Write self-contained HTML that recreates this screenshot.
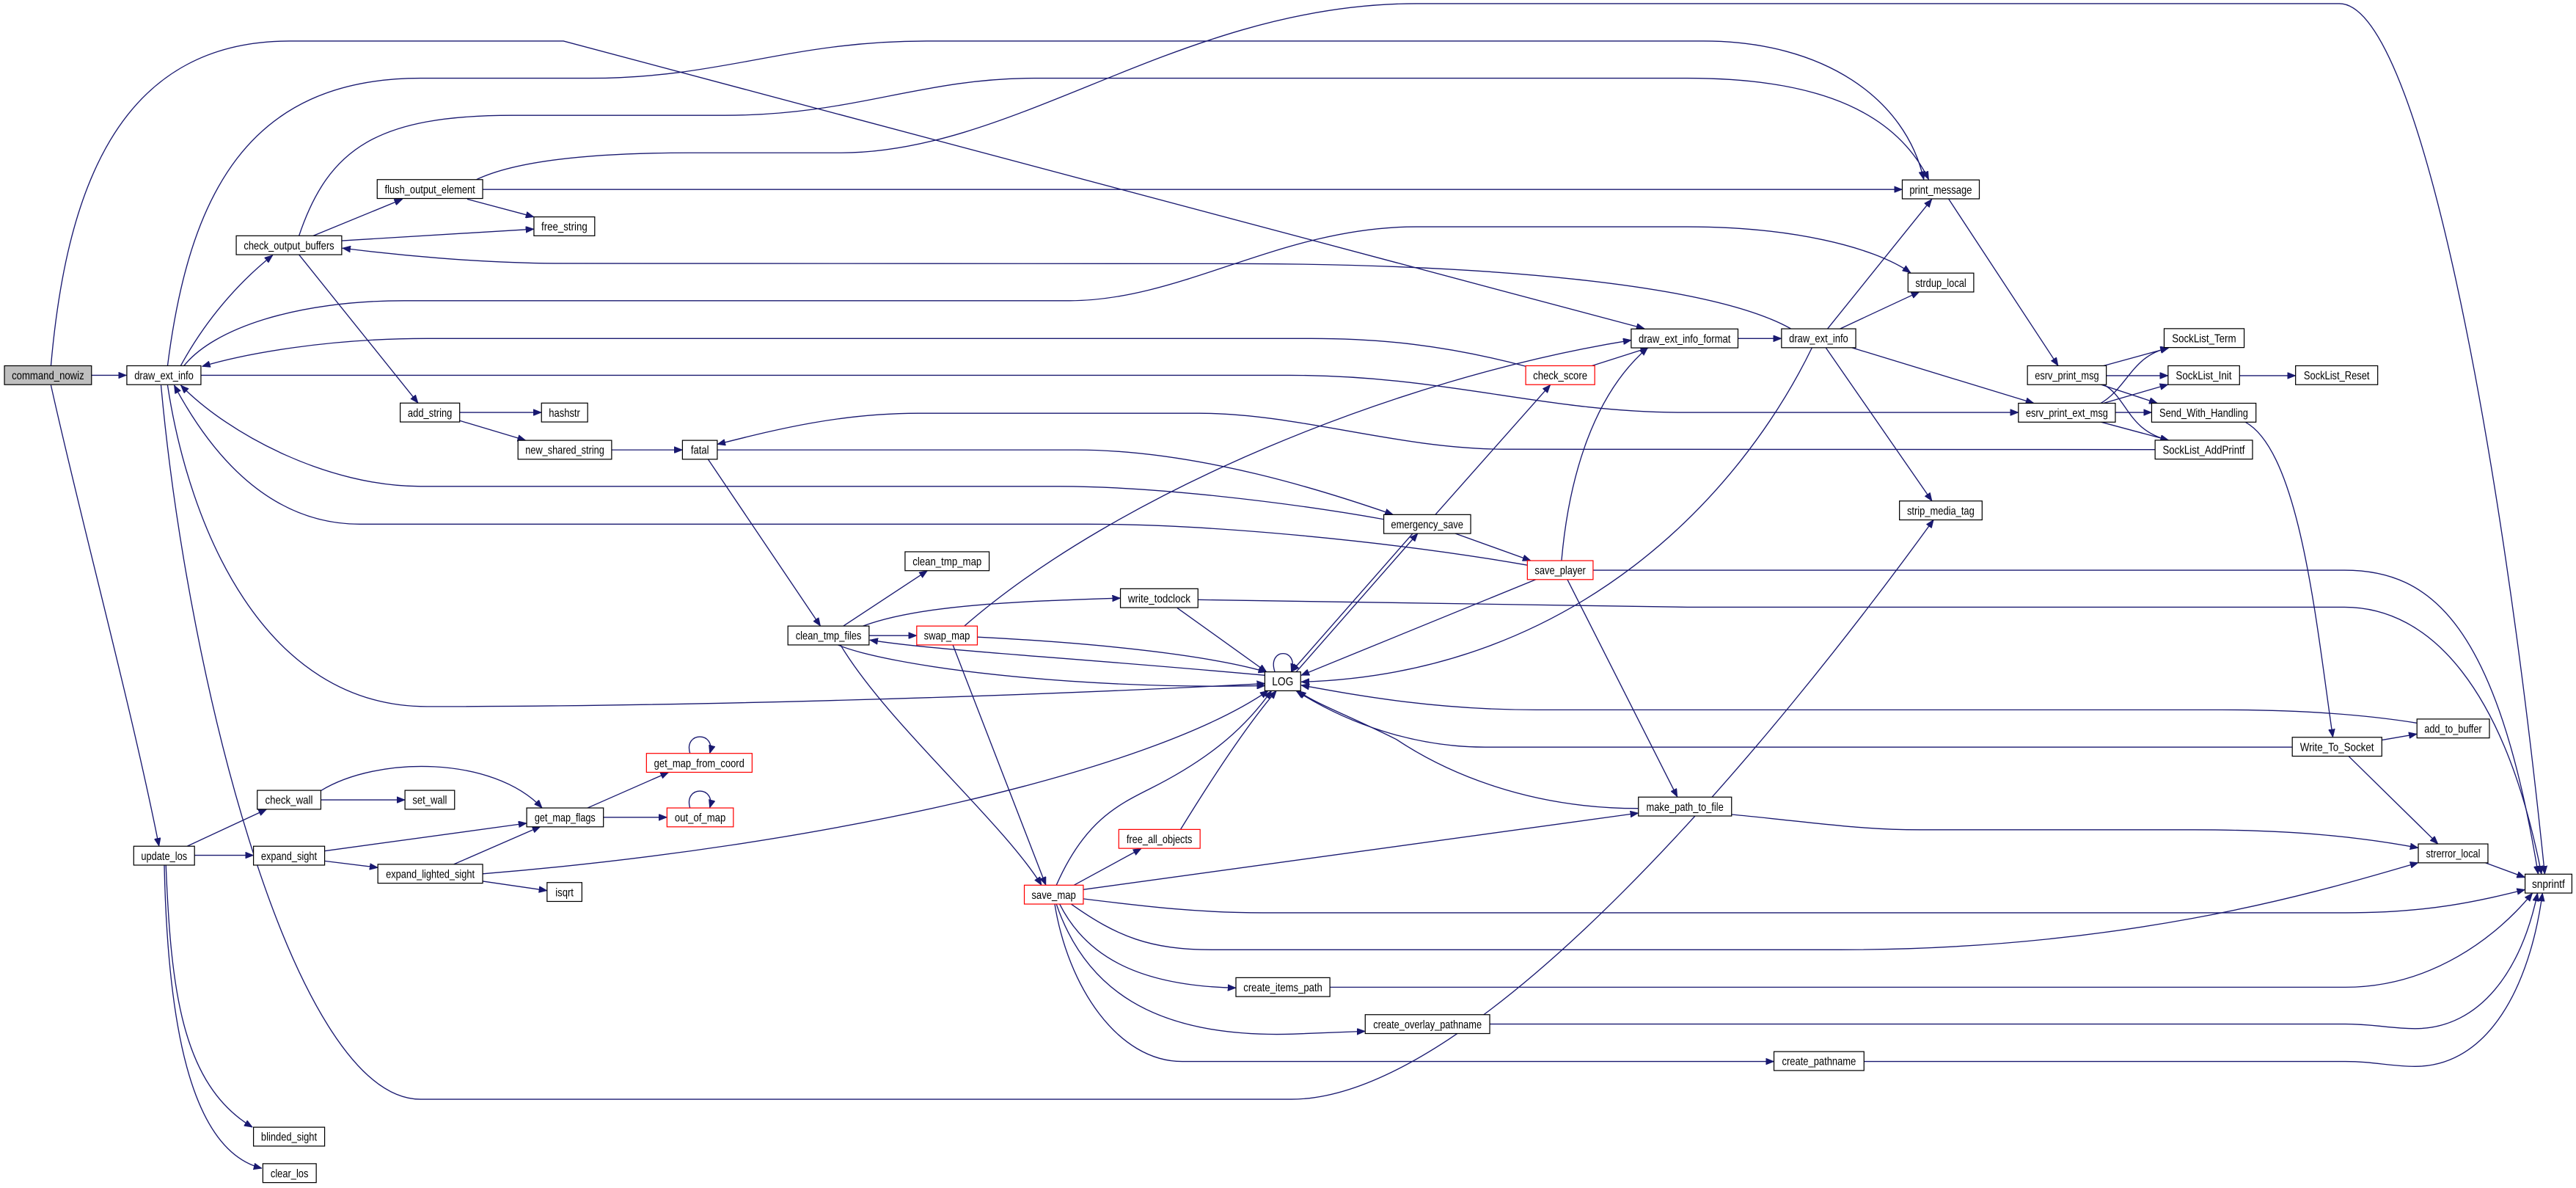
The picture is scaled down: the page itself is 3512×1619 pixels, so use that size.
<!DOCTYPE html>
<html><head><meta charset="utf-8"><style>
html,body{margin:0;padding:0;background:#fff;width:3512px;height:1619px;overflow:hidden}
svg{display:block}
text{font-family:"Liberation Sans",sans-serif;font-size:7.2px;fill:#000}
.e{fill:none;stroke:#191970;stroke-width:0.6;marker-end:url(#a)}
.n{fill:#fff;stroke:#000;stroke-width:0.55}
.r{fill:#fff;stroke:#ff0000;stroke-width:0.55}
.g{fill:#bfbfbf;stroke:#000;stroke-width:0.55}
</style></head><body>
<svg width="3512" height="1619" viewBox="0 0 1568 723" preserveAspectRatio="none" xmlns="http://www.w3.org/2000/svg">
<defs><marker id="a" markerUnits="userSpaceOnUse" markerWidth="5" markerHeight="4" refX="5" refY="2" orient="auto"><path d="M0,0 L5,2 L0,4 z" fill="#191970" stroke="#191970" stroke-width="0.3"/></marker></defs>
<g>
<path class="e" d="M55.7,228.4 L77,228.4"/>
<path class="e" d="M31,234.4 C50,320 80,430 96.8,515"/>
<path class="e" d="M31,222.6 C40,120 70,25 176,25 L343,25 L1001,200"/>
<path class="e" d="M102,222.6 C115,120 150,47.6 256,47.6 L359,47.6 C440,47.6 480,25 564,25 L1037,25 C1110,25 1160,60 1171,109.3"/>
<path class="e" d="M110,222.6 C125,195 145,172 166,155.3"/>
<path class="e" d="M112,222.6 C130,200 180,183 246,183 L651,183 C720,183 780,138 862,138 L1027,138 C1090,138 1140,150 1163,166"/>
<path class="e" d="M122.3,228.4 L785,228.4 C880,228.4 940,251 1024,251 L1228.6,251"/>
<path class="e" d="M929,223 C880,210 840,206 798,206 L260,206 C200,206 150,215 123,223"/>
<path class="e" d="M842,316 C780,305 700,296 645,296 L256,296 C200,296 140,265 110,234.4"/>
<path class="e" d="M930,344 C850,330 740,319 662,319 L219,319 C160,319 125,270 106,234.4"/>
<path class="e" d="M102,234.4 C115,320 160,430 260,430 C400,430 600,425 770,416"/>
<path class="e" d="M98,234.4 C115,420 180,669 256,669 L786,669 C900,669 1080,450 1177,316.3"/>
<path class="e" d="M190.6,143.5 L245,121.2"/>
<path class="e" d="M208,146.5 L325,139.4"/>
<path class="e" d="M284.4,121.2 L325,132"/>
<path class="e" d="M182,143.5 C200,90 230,70.2 312,70.2 L441,70.2 C520,70.2 560,47.6 630,47.6 L1027,47.6 C1090,47.6 1150,60 1174,109.3"/>
<path class="e" d="M290,109.3 C320,95 380,93 420,93 L512,93 C620,93 720,2.2 862,2.2 L1424,2.2 C1470,2.2 1520,250 1549,532"/>
<path class="e" d="M293.8,115.3 L1157.9,115.3"/>
<path class="e" d="M1090,200 C1040,172 900,161 760,160.5 L338,160.3 C290,160 240,155 208.4,151"/>
<path class="e" d="M182,155 L254.5,245.3"/>
<path class="e" d="M279.8,251 L329.6,251"/>
<path class="e" d="M279.8,256 L320,268"/>
<path class="e" d="M372.3,273.8 L415.4,273.8"/>
<path class="e" d="M1311.8,273.6 L915,273.4 C850,273 790,251.5 730,251.5 L559,251.5 C510,251.5 470,262 436.6,270.4"/>
<path class="e" d="M436.6,273.8 L655,273.8 C730,273.8 810,300 848,313.2"/>
<path class="e" d="M431,279.5 L499.4,381"/>
<path class="e" d="M513.3,381 L564.5,347.3"/>
<path class="e" d="M525.3,381 C560,368 620,366 682,364"/>
<path class="e" d="M529,386.8 L558,386.8"/>
<path class="e" d="M770,411 C650,400 570,396 529.4,389.5"/>
<path class="e" d="M510,392.5 C540,405 650,420 770,417.3"/>
<path class="e" d="M595,387.7 C680,392 740,400 771,409"/>
<path class="e" d="M776,408.9 C771,394 791,394 786,408.9"/>
<path class="e" d="M511.6,392.5 C540,440 610,500 634,538.7"/>
<path class="e" d="M580,392.5 L636.6,538.7"/>
<path class="e" d="M587,381 C680,300 850,230 993,207"/>
<path class="e" d="M873.7,313.2 L943.7,234.2"/>
<path class="e" d="M885.6,324.6 L931.8,341.2"/>
<path class="e" d="M860,324.6 L786,408.9"/>
<path class="e" d="M789,408.9 L863,324.6"/>
<path class="e" d="M935,352.6 L792,411"/>
<path class="e" d="M950.5,341.2 C955,290 970,240 1003,211.6"/>
<path class="e" d="M969,222.6 L1003.5,211.6"/>
<path class="e" d="M1057.9,206 L1084.4,206"/>
<path class="e" d="M1103,211.5 C1060,300 960,410 792,415"/>
<path class="e" d="M954,352.6 L1021,485"/>
<path class="e" d="M969.7,347 L1427,347 C1480,347 1520,380 1545,532"/>
<path class="e" d="M729.2,365 L1027,369.5 L1427,369.5 C1480,369.5 1525,420 1547,532"/>
<path class="e" d="M716.6,370 L771,409"/>
<path class="e" d="M1112.4,200.1 L1175.9,121.2"/>
<path class="e" d="M1120,200.1 L1168.3,177.6"/>
<path class="e" d="M1126.9,211.5 L1238,245.4"/>
<path class="e" d="M1111.3,211.5 L1176,304.9"/>
<path class="e" d="M1186.2,121.2 L1252.8,222.6"/>
<path class="e" d="M1280.4,222.6 L1320,211.8"/>
<path class="e" d="M1282,228.6 L1319.7,228.6"/>
<path class="e" d="M1278.7,234 L1313.2,245.4"/>
<path class="e" d="M1280.4,234 C1295,242 1295,262 1320,267.9"/>
<path class="e" d="M1278.7,245.4 C1295,236 1298,216 1320,211.8"/>
<path class="e" d="M1280.4,245.4 L1319.7,234"/>
<path class="e" d="M1287.6,251 L1309.7,251"/>
<path class="e" d="M1278.7,256.8 L1320,267.9"/>
<path class="e" d="M1363.2,228.6 L1397.3,228.6"/>
<path class="e" d="M1366.6,256.8 C1400,275 1410,380 1420,448.7"/>
<path class="e" d="M1449.8,450.4 L1471.2,446.7"/>
<path class="e" d="M1471,440 C1440,435 1400,432 1352,432 L935,432 C870,432 820,422 792,417"/>
<path class="e" d="M1395,454.7 L904,454.7 C860,454.7 820,440 789,420.5"/>
<path class="e" d="M1429.5,460.1 L1484,513.6"/>
<path class="e" d="M1512.6,525 L1537,534"/>
<path class="e" d="M1054,495.7 C1100,500 1130,505 1169,505 L1335,505 C1400,505 1440,510 1472,516"/>
<path class="e" d="M997,492 C930,492 880,470 850,450 C820,435 800,428 790,420.3"/>
<path class="e" d="M659.3,541.4 L997.3,494.8"/>
<path class="e" d="M659.3,547 C700,552 730,555.5 769,555.5 L1427.6,555.5 C1480,555.5 1510,548 1537,541.4"/>
<path class="e" d="M652,550.2 C680,570 700,578 738,578 L1120,578 C1300,578 1420,540 1472,525"/>
<path class="e" d="M645,550.2 C660,580 690,600 752.3,601.2"/>
<path class="e" d="M643,550.2 C660,600 700,632 787,629.3 L831,627.6"/>
<path class="e" d="M642,550.2 C650,600 680,646 719.7,646 L1079.8,646"/>
<path class="e" d="M809.5,600.8 L1427.6,600.8 C1480,600.8 1520,570 1541.5,543.5"/>
<path class="e" d="M906.8,623.2 L1427.6,623.2 C1445,623.2 1455,626 1470,626 C1510,626 1535,590 1544.6,543.5"/>
<path class="e" d="M1134.6,646 L1427.6,646 C1445,646 1455,649 1470,649 C1515,649 1540,600 1547.6,543.5"/>
<path class="e" d="M653.7,538.7 L694.7,516.4"/>
<path class="e" d="M718.6,504.8 C740,470 760,440 777,420.3"/>
<path class="e" d="M643,538.7 C660,500 680,490 700,480 C740,460 760,440 774,420.3"/>
<path class="e" d="M293.8,531.8 C500,515 700,470 772,420.3"/>
<path class="e" d="M113.9,515 L162.3,492.5"/>
<path class="e" d="M118.4,520.5 L154.3,520.5"/>
<path class="e" d="M101,526.5 C104,600 110,660 153.7,686"/>
<path class="e" d="M100,526.5 C102,620 115,700 159.4,711"/>
<path class="e" d="M195.3,486.8 L246.5,486.8"/>
<path class="e" d="M195.3,481.2 C230,460 300,460 330,491.7"/>
<path class="e" d="M197.6,517.9 L320.6,501"/>
<path class="e" d="M197.6,524 L230,528"/>
<path class="e" d="M276.2,526 L329,503"/>
<path class="e" d="M293.8,536.3 L333,542"/>
<path class="e" d="M357.6,491.7 L407,470"/>
<path class="e" d="M367.3,497.4 L406,497.4"/>
<path class="e" d="M420,458.5 C416,445 436,445 432,458.5"/>
<path class="e" d="M420,491.7 C416,478 436,478 432,491.7"/>
</g>
<g>
<rect class="g" x="2.7" y="222.6" width="53" height="11.5"/><text x="29.2" y="230.9" text-anchor="middle" textLength="44" lengthAdjust="spacingAndGlyphs">command_nowiz</text>
<rect class="n" x="77.2" y="222.6" width="45.1" height="11.5"/><text x="99.8" y="230.9" text-anchor="middle" textLength="36" lengthAdjust="spacingAndGlyphs">draw_ext_info</text>
<rect class="n" x="143.8" y="143.5" width="64.2" height="11.5"/><text x="175.9" y="151.8" text-anchor="middle" textLength="55" lengthAdjust="spacingAndGlyphs">check_output_buffers</text>
<rect class="n" x="229.6" y="109.3" width="64.2" height="11.5"/><text x="261.7" y="117.6" text-anchor="middle" textLength="55" lengthAdjust="spacingAndGlyphs">flush_output_element</text>
<rect class="n" x="325" y="132" width="37" height="11.5"/><text x="343.5" y="140.3" text-anchor="middle" textLength="28" lengthAdjust="spacingAndGlyphs">free_string</text>
<rect class="n" x="243.6" y="245.3" width="36.2" height="11.5"/><text x="261.7" y="253.6" text-anchor="middle" textLength="27" lengthAdjust="spacingAndGlyphs">add_string</text>
<rect class="n" x="329.6" y="245.3" width="28.1" height="11.5"/><text x="343.6" y="253.6" text-anchor="middle" textLength="19" lengthAdjust="spacingAndGlyphs">hashstr</text>
<rect class="n" x="315.3" y="268" width="57" height="11.5"/><text x="343.8" y="276.3" text-anchor="middle" textLength="48" lengthAdjust="spacingAndGlyphs">new_shared_string</text>
<rect class="n" x="415.4" y="268" width="21.2" height="11.5"/><text x="426" y="276.3" text-anchor="middle" textLength="11" lengthAdjust="spacingAndGlyphs">fatal</text>
<rect class="n" x="479.6" y="381" width="49.4" height="11.5"/><text x="504.3" y="389.3" text-anchor="middle" textLength="40" lengthAdjust="spacingAndGlyphs">clean_tmp_files</text>
<rect class="n" x="550.9" y="335.8" width="51.2" height="11.5"/><text x="576.5" y="344.1" text-anchor="middle" textLength="42" lengthAdjust="spacingAndGlyphs">clean_tmp_map</text>
<rect class="n" x="682" y="358.3" width="47.2" height="11.5"/><text x="705.6" y="366.6" text-anchor="middle" textLength="38" lengthAdjust="spacingAndGlyphs">write_todclock</text>
<rect class="r" x="558" y="381" width="36.9" height="11.5"/><text x="576.4" y="389.3" text-anchor="middle" textLength="28" lengthAdjust="spacingAndGlyphs">swap_map</text>
<rect class="n" x="769.9" y="408.9" width="21.8" height="11.5"/><text x="780.8" y="417.2" text-anchor="middle" textLength="13" lengthAdjust="spacingAndGlyphs">LOG</text>
<rect class="n" x="842.3" y="313.2" width="52.9" height="11.5"/><text x="868.7" y="321.5" text-anchor="middle" textLength="44" lengthAdjust="spacingAndGlyphs">emergency_save</text>
<rect class="r" x="928.7" y="222.6" width="42" height="11.5"/><text x="949.7" y="230.9" text-anchor="middle" textLength="33" lengthAdjust="spacingAndGlyphs">check_score</text>
<rect class="r" x="929.7" y="341.2" width="40" height="11.5"/><text x="949.7" y="349.5" text-anchor="middle" textLength="31" lengthAdjust="spacingAndGlyphs">save_player</text>
<rect class="n" x="992.9" y="200.2" width="65" height="11.5"/><text x="1025.4" y="208.5" text-anchor="middle" textLength="56" lengthAdjust="spacingAndGlyphs">draw_ext_info_format</text>
<rect class="n" x="1084.4" y="200.1" width="45.2" height="11.5"/><text x="1107" y="208.4" text-anchor="middle" textLength="36" lengthAdjust="spacingAndGlyphs">draw_ext_info</text>
<rect class="n" x="1157.9" y="109.5" width="46.9" height="11.5"/><text x="1181.3" y="117.8" text-anchor="middle" textLength="38" lengthAdjust="spacingAndGlyphs">print_message</text>
<rect class="n" x="1161.4" y="166.2" width="40" height="11.5"/><text x="1181.4" y="174.5" text-anchor="middle" textLength="31" lengthAdjust="spacingAndGlyphs">strdup_local</text>
<rect class="n" x="1156.2" y="304.9" width="50.3" height="11.5"/><text x="1181.3" y="313.2" text-anchor="middle" textLength="41" lengthAdjust="spacingAndGlyphs">strip_media_tag</text>
<rect class="n" x="1234.1" y="222.6" width="48" height="11.5"/><text x="1258.1" y="230.9" text-anchor="middle" textLength="39" lengthAdjust="spacingAndGlyphs">esrv_print_msg</text>
<rect class="n" x="1228.6" y="245.4" width="59" height="11.5"/><text x="1258.1" y="253.7" text-anchor="middle" textLength="50" lengthAdjust="spacingAndGlyphs">esrv_print_ext_msg</text>
<rect class="n" x="1317.3" y="200" width="48.7" height="11.5"/><text x="1341.6" y="208.3" text-anchor="middle" textLength="39" lengthAdjust="spacingAndGlyphs">SockList_Term</text>
<rect class="n" x="1319.7" y="222.6" width="43.5" height="11.5"/><text x="1341.4" y="230.9" text-anchor="middle" textLength="34" lengthAdjust="spacingAndGlyphs">SockList_Init</text>
<rect class="n" x="1397.3" y="222.6" width="50" height="11.5"/><text x="1422.3" y="230.9" text-anchor="middle" textLength="40" lengthAdjust="spacingAndGlyphs">SockList_Reset</text>
<rect class="n" x="1309.7" y="245.4" width="63.5" height="11.5"/><text x="1341.4" y="253.7" text-anchor="middle" textLength="54" lengthAdjust="spacingAndGlyphs">Send_With_Handling</text>
<rect class="n" x="1311.8" y="267.9" width="59.3" height="11.5"/><text x="1341.4" y="276.2" text-anchor="middle" textLength="50" lengthAdjust="spacingAndGlyphs">SockList_AddPrintf</text>
<rect class="n" x="1471.2" y="437.6" width="44.1" height="11.5"/><text x="1493.2" y="445.9" text-anchor="middle" textLength="35" lengthAdjust="spacingAndGlyphs">add_to_buffer</text>
<rect class="n" x="1395.3" y="448.7" width="54.5" height="11.5"/><text x="1422.5" y="457" text-anchor="middle" textLength="45" lengthAdjust="spacingAndGlyphs">Write_To_Socket</text>
<rect class="n" x="997.3" y="485.1" width="56.7" height="11.5"/><text x="1025.6" y="493.4" text-anchor="middle" textLength="47" lengthAdjust="spacingAndGlyphs">make_path_to_file</text>
<rect class="n" x="1472" y="513.6" width="42.4" height="11.5"/><text x="1493.2" y="521.9" text-anchor="middle" textLength="33" lengthAdjust="spacingAndGlyphs">strerror_local</text>
<rect class="n" x="1537" y="532" width="28.5" height="11.5"/><text x="1551.2" y="540.3" text-anchor="middle" textLength="20" lengthAdjust="spacingAndGlyphs">snprintf</text>
<rect class="n" x="81.4" y="515" width="37" height="11.5"/><text x="99.9" y="523.3" text-anchor="middle" textLength="28" lengthAdjust="spacingAndGlyphs">update_los</text>
<rect class="n" x="156.6" y="481" width="38.7" height="11.5"/><text x="175.9" y="489.3" text-anchor="middle" textLength="29" lengthAdjust="spacingAndGlyphs">check_wall</text>
<rect class="n" x="246.5" y="481" width="30.2" height="11.5"/><text x="261.6" y="489.3" text-anchor="middle" textLength="21" lengthAdjust="spacingAndGlyphs">set_wall</text>
<rect class="n" x="154.3" y="515" width="43.3" height="11.5"/><text x="175.9" y="523.3" text-anchor="middle" textLength="34" lengthAdjust="spacingAndGlyphs">expand_sight</text>
<rect class="n" x="230" y="526" width="63.8" height="11.5"/><text x="261.9" y="534.3" text-anchor="middle" textLength="54" lengthAdjust="spacingAndGlyphs">expand_lighted_sight</text>
<rect class="n" x="333" y="537.1" width="21.2" height="11.5"/><text x="343.6" y="545.4" text-anchor="middle" textLength="11" lengthAdjust="spacingAndGlyphs">isqrt</text>
<rect class="n" x="320.6" y="491.7" width="46.7" height="11.5"/><text x="343.9" y="500" text-anchor="middle" textLength="37" lengthAdjust="spacingAndGlyphs">get_map_flags</text>
<rect class="r" x="393.5" y="458.5" width="64.3" height="11.5"/><text x="425.6" y="466.8" text-anchor="middle" textLength="55" lengthAdjust="spacingAndGlyphs">get_map_from_coord</text>
<rect class="r" x="406" y="491.7" width="40.4" height="11.5"/><text x="426.2" y="500" text-anchor="middle" textLength="31" lengthAdjust="spacingAndGlyphs">out_of_map</text>
<rect class="r" x="623.5" y="538.7" width="35.9" height="11.5"/><text x="641.4" y="547" text-anchor="middle" textLength="27" lengthAdjust="spacingAndGlyphs">save_map</text>
<rect class="r" x="681" y="504.8" width="49.5" height="11.5"/><text x="705.7" y="513.1" text-anchor="middle" textLength="40" lengthAdjust="spacingAndGlyphs">free_all_objects</text>
<rect class="n" x="752.3" y="595" width="57.2" height="11.5"/><text x="780.9" y="603.3" text-anchor="middle" textLength="48" lengthAdjust="spacingAndGlyphs">create_items_path</text>
<rect class="n" x="831" y="617.5" width="75.8" height="11.5"/><text x="868.9" y="625.8" text-anchor="middle" textLength="66" lengthAdjust="spacingAndGlyphs">create_overlay_pathname</text>
<rect class="n" x="1079.8" y="640" width="54.8" height="11.5"/><text x="1107.2" y="648.3" text-anchor="middle" textLength="45" lengthAdjust="spacingAndGlyphs">create_pathname</text>
<rect class="n" x="154.3" y="686" width="43.3" height="11.5"/><text x="175.9" y="694.3" text-anchor="middle" textLength="34" lengthAdjust="spacingAndGlyphs">blinded_sight</text>
<rect class="n" x="160" y="708.2" width="32.5" height="11.5"/><text x="176.2" y="716.5" text-anchor="middle" textLength="23" lengthAdjust="spacingAndGlyphs">clear_los</text>
</g>
</svg>
</body></html>
